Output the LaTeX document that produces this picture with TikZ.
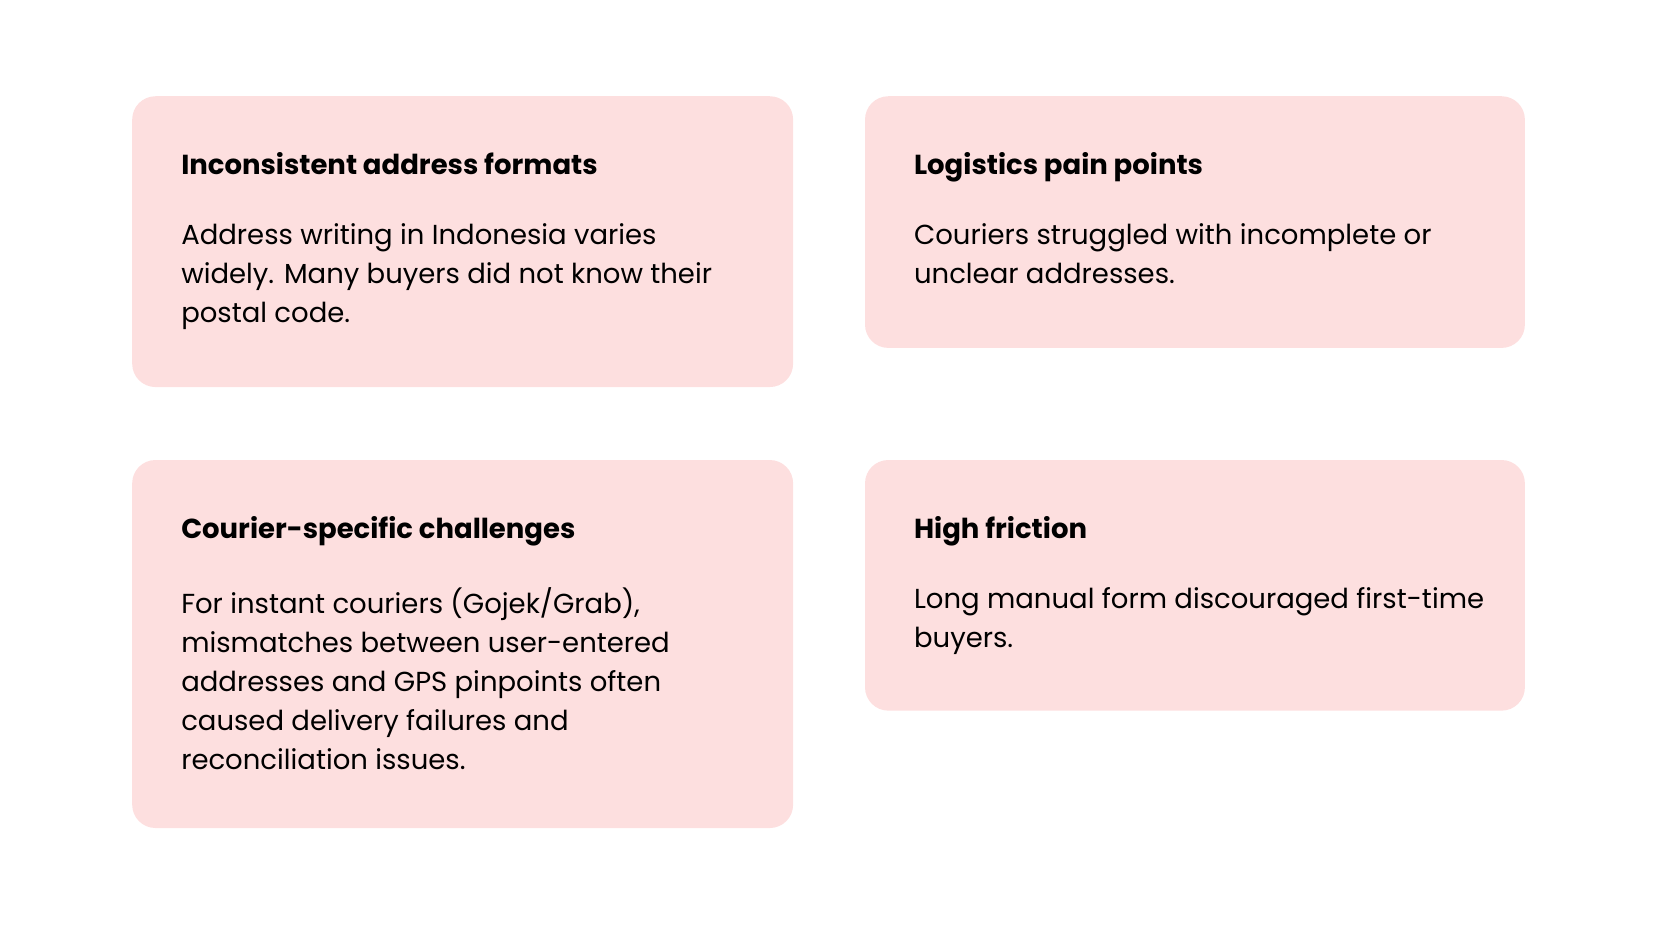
\documentclass[tikz,border=0pt]{standalone}
\usepackage{fontspec}
\setmainfont{Poppins}
\definecolor{card}{HTML}{FDDFDF}
\begin{document}
\begin{tikzpicture}[x=0.5pt,y=-0.5pt,
  cardbox/.style={fill=card,rounded corners=11pt},
  ttl/.style={anchor=base west,inner sep=0pt,font=\fontsize{13}{18.5}\selectfont\bfseries},
  body/.style={anchor=north west,inner sep=0pt,align=left,font=\fontsize{13}{18.5}\selectfont}]
\useasboundingbox (0,0) rectangle (1566,874);
\fill[cardbox] (125,91) rectangle (750,366);
\fill[cardbox] (818,91) rectangle (1442,329);
\fill[cardbox] (125,435) rectangle (750,783);
\fill[cardbox] (818,435) rectangle (1442,672);
\node[ttl] (t1) at (171,165) {Inconsistent address formats};
\node[ttl] (t2) at (864,165) {Logistics pain points};
\node[ttl] (t3) at (171,509) {Courier-specific challenges};
\node[ttl] (t4) at (864,509) {High friction};
\node[body] (b1) at (171,211) {Address writing in Indonesia varies\\widely. Many buyers did not know their\\postal code.};
\node[body] (b2) at (864,211) {Couriers struggled with incomplete or\\unclear addresses.};
\node[body] (b3) at (171,555) {For instant couriers (Gojek/Grab),\\mismatches between user-entered\\addresses and GPS pinpoints often\\caused delivery failures and\\reconciliation issues.};
\node[body] (b4) at (864,555) {Long manual form discouraged first-time\\buyers.};
\end{tikzpicture}
\end{document}
